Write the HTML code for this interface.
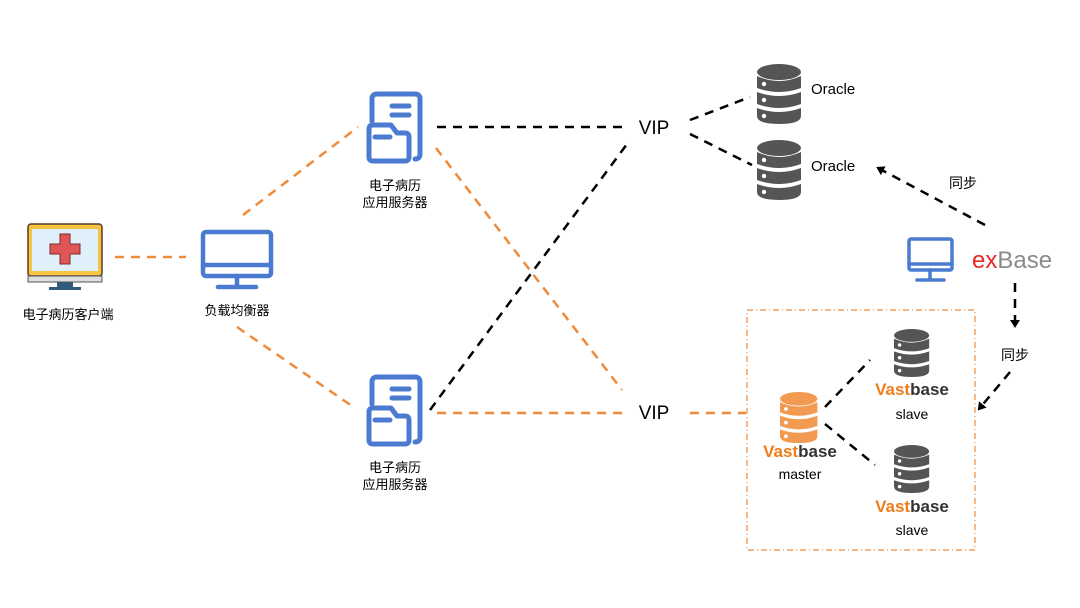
<!DOCTYPE html>
<html><head><meta charset="utf-8"><style>
body{margin:0;background:#fff}
text{font-family:"Liberation Sans","Noto Sans CJK SC",sans-serif}
</style></head><body>
<svg width="1080" height="603" viewBox="0 0 1080 603" xmlns="http://www.w3.org/2000/svg">
<defs>
<marker id="ar" markerWidth="10" markerHeight="10" refX="6" refY="5" orient="auto" markerUnits="userSpaceOnUse"><path d="M0,0 L8,5 L0,10 z" fill="#000"/></marker>
<g id="db">
 <ellipse cx="22" cy="8" rx="22" ry="8"/>
 <path d="M0,12 Q22,22 44,12 V24 Q22,32 0,24 Z"/>
 <path d="M0,28 Q22,36 44,28 V40 Q22,48 0,40 Z"/>
 <path d="M0,44 Q22,52 44,44 V52 Q44,60 22,60 Q0,60 0,52 Z"/>
 <circle cx="7" cy="20" r="2.2" fill="#fff"/>
 <circle cx="7" cy="36" r="2.2" fill="#fff"/>
 <circle cx="7" cy="52" r="2.2" fill="#fff"/>
</g>
<g id="srv" fill="none" stroke="#4a7bd0" stroke-width="5" stroke-linecap="round" stroke-linejoin="round">
 <path d="M6,30 V8 Q6,3 11,3 H49 Q54,3 54,8 V63 Q54,68 49,68"/>
 <line x1="26" y1="15" x2="43" y2="15"/><line x1="26" y1="24" x2="43" y2="24"/>
 <path d="M3,38 Q3,34 7,34 H25 L31,42 H39 Q43,42 43,46 V66 Q43,70 39,70 H7 Q3,70 3,66 Z"/>
 <line x1="9" y1="46" x2="24" y2="46"/>
</g>
</defs>

<g stroke="#ef8a3a" stroke-width="2.5" stroke-dasharray="9,7" fill="none">
 <line x1="115" y1="257" x2="186" y2="257"/>
 <line x1="243" y1="215" x2="358" y2="127"/>
 <line x1="237" y1="327" x2="352" y2="406"/>
 <line x1="436" y1="148" x2="622" y2="390"/>
 <line x1="437" y1="413" x2="626" y2="413"/>
 <line x1="690" y1="413" x2="746" y2="413"/>
</g>
<g stroke="#000" stroke-width="2.5" stroke-dasharray="9,7" fill="none">
 <line x1="437" y1="127" x2="625" y2="127"/>
 <line x1="430" y1="410" x2="630" y2="140"/>
 <line x1="690" y1="120" x2="750" y2="97"/>
 <line x1="690" y1="134" x2="752" y2="165"/>
 <line x1="825" y1="407" x2="870" y2="360"/>
 <line x1="825" y1="424" x2="875" y2="465"/>
 <line x1="985" y1="225" x2="878" y2="168" marker-end="url(#ar)"/>
 <line x1="1015" y1="283" x2="1015" y2="326" marker-end="url(#ar)"/>
 <line x1="1010" y1="372" x2="979" y2="409" marker-end="url(#ar)"/>
</g>
<rect x="747" y="310" width="228" height="240" fill="none" stroke="#ef8a3a" stroke-width="1.2" stroke-dasharray="6,3,1,3"/>

<rect x="28" y="224" width="74" height="52" rx="3" fill="#f5c542" stroke="#5a3a2a" stroke-width="1.5"/>
<rect x="32" y="229" width="66" height="42" fill="#dff0fb"/>
<path d="M60,234 h10 v10 h10 v10 h-10 v10 h-10 v-10 h-10 v-10 h10 z" fill="#e05555" stroke="#7a2a2a" stroke-width="1"/>
<rect x="28" y="276" width="74" height="6" fill="#ddd" stroke="#555" stroke-width="1"/>
<rect x="57" y="282" width="16" height="5" fill="#2f5a7a"/>
<rect x="49" y="287" width="32" height="3" fill="#2f5a7a"/>
<text x="68" y="319" font-size="13" text-anchor="middle">电子病历客户端</text>

<g fill="none" stroke="#4a7bd0" stroke-width="4.5" stroke-linecap="round">
 <rect x="203" y="232" width="68" height="44" rx="3"/>
 <line x1="203" y1="265" x2="271" y2="265"/>
 <line x1="237" y1="276" x2="237" y2="286"/>
 <line x1="218" y1="287" x2="256" y2="287"/>
</g>
<text x="237" y="315" font-size="13" text-anchor="middle">负载均衡器</text>

<use href="#srv" x="366" y="91"/>
<text x="395" y="190" font-size="13" text-anchor="middle">电子病历</text>
<text x="395" y="207" font-size="13" text-anchor="middle">应用服务器</text>
<use href="#srv" x="366" y="374"/>
<text x="395" y="472" font-size="13" text-anchor="middle">电子病历</text>
<text x="395" y="489" font-size="13" text-anchor="middle">应用服务器</text>

<text x="654" y="134" font-size="19" text-anchor="middle">VIP</text>
<text x="654" y="419" font-size="19" text-anchor="middle">VIP</text>

<use href="#db" x="757" y="64" fill="#555"/>
<use href="#db" x="757" y="140" fill="#555"/>
<text x="811" y="94" font-size="15">Oracle</text>
<text x="811" y="171" font-size="15">Oracle</text>
<text x="963" y="188" font-size="14" text-anchor="middle">同步</text>

<g fill="none" stroke="#4a7bd0" stroke-width="3.5" stroke-linecap="round">
 <rect x="909" y="239" width="43" height="31" rx="2"/>
 <line x1="909" y1="264" x2="952" y2="264"/>
 <line x1="930" y1="270" x2="930" y2="278"/>
 <line x1="917" y1="280" x2="944" y2="280"/>
</g>
<text x="972" y="268" font-size="24"><tspan fill="#e8262a">ex</tspan><tspan fill="#8a8a8a">Base</tspan></text>
<text x="1015" y="360" font-size="14" text-anchor="middle">同步</text>

<use href="#db" fill="#f39a52" transform="translate(780 392) scale(0.85)"/>
<text x="800" y="457" font-size="17" font-weight="bold" text-anchor="middle"><tspan fill="#ef7d1a">Vast</tspan><tspan fill="#333">base</tspan></text>
<text x="800" y="479" font-size="14" text-anchor="middle">master</text>

<use href="#db" fill="#555" transform="translate(894 329) scale(0.8)"/>
<text x="912" y="395" font-size="17" font-weight="bold" text-anchor="middle"><tspan fill="#ef7d1a">Vast</tspan><tspan fill="#333">base</tspan></text>
<text x="912" y="419" font-size="14" text-anchor="middle">slave</text>

<use href="#db" fill="#555" transform="translate(894 445) scale(0.8)"/>
<text x="912" y="512" font-size="17" font-weight="bold" text-anchor="middle"><tspan fill="#ef7d1a">Vast</tspan><tspan fill="#333">base</tspan></text>
<text x="912" y="535" font-size="14" text-anchor="middle">slave</text>
</svg>
</body></html>
